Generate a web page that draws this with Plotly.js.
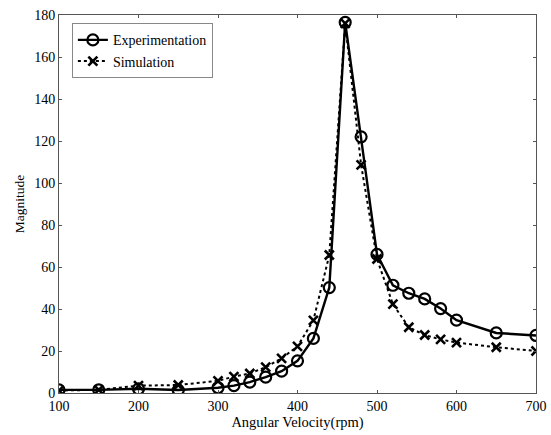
<!DOCTYPE html>
<html>
<head>
<meta charset="utf-8">
<script src="https://cdn.plot.ly/plotly-3.0.1.min.js"></script>
<style>
  html, body { margin: 0; padding: 0; background: #fff; }
  #chart { width: 551px; height: 435px; }
</style>
</head>
<body>
<div id="chart"></div>
<script>
// Angular velocity sweep (rpm)
const speedExp = [100, 150, 200, 250, 300, 320, 340, 360, 380, 400, 420, 440, 460, 480, 500, 520, 540, 560, 580, 600, 650, 700];
const magExp   = [1.5, 1.5, 2.0, 1.4, 2.5, 3.5, 5.2, 7.6, 10.4, 15.3, 26.0, 50.2, 176.5, 122.0, 66.0, 51.3, 47.5, 44.8, 40.2, 34.7, 28.6, 27.4];

const speedSim = [100, 150, 200, 250, 300, 320, 340, 360, 380, 400, 420, 440, 460, 480, 500, 520, 540, 560, 580, 600, 650, 700];
const magSim   = [1.2, 1.5, 3.5, 3.8, 5.8, 7.8, 9.3, 12.3, 16.5, 22.2, 34.6, 65.7, 176.0, 108.6, 63.8, 42.3, 31.3, 27.6, 25.5, 24.0, 21.8, 20.0];

const xTicks = [100, 200, 300, 400, 500, 600, 700];
const yTicks = [0, 20, 40, 60, 80, 100, 120, 140, 160, 180];

const serif = 'Liberation Serif, Times New Roman, serif';

const traces = [
  {
    x: speedExp, y: magExp, name: 'Experimentation',
    type: 'scatter', mode: 'lines+markers',
    line: { color: '#000', width: 2.4, dash: 'solid' },
    marker: { symbol: 'circle-open', size: 11, color: '#000', line: { color: '#000', width: 2.2 } }
  },
  {
    x: speedSim, y: magSim, name: 'Simulation',
    type: 'scatter', mode: 'lines+markers',
    line: { color: '#000', width: 2, dash: 'dot' },
    marker: { symbol: 'x-thin-open', size: 9, color: '#000', line: { color: '#000', width: 2.6 } }
  }
];

const layout = {
  width: 551, height: 435,
  margin: { l: 59, r: 15, t: 15, b: 42, pad: 0 },
  paper_bgcolor: '#fff', plot_bgcolor: '#fff',
  font: { family: serif, color: '#000', size: 14 },
  showlegend: true,
  legend: {
    x: 0.027, y: 0.978, xanchor: 'left', yanchor: 'top',
    bgcolor: '#fff', bordercolor: '#888', borderwidth: 1,
    font: { family: serif, size: 14, color: '#000' },
    tracegroupgap: 0, itemwidth: 30
  },
  xaxis: {
    range: [100, 700], tickvals: xTicks, ticktext: xTicks.map(String),
    ticks: 'inside', ticklen: 3, tickcolor: '#555', tickwidth: 1,
    showline: true, linecolor: '#555', linewidth: 1, mirror: 'ticks',
    showgrid: false, zeroline: false,
    tickfont: { family: serif, size: 14, color: '#000' },
    title: { text: 'Angular Velocity(rpm)', font: { family: serif, size: 14.5, color: '#000' }, standoff: 3 }
  },
  yaxis: {
    range: [0, 180], tickvals: yTicks, ticktext: yTicks.map(String),
    ticks: 'inside', ticklen: 3, tickcolor: '#555', tickwidth: 1,
    showline: true, linecolor: '#555', linewidth: 1, mirror: 'ticks',
    showgrid: false, zeroline: false,
    tickfont: { family: serif, size: 14, color: '#000' },
    title: { text: 'Magnitude', font: { family: serif, size: 13.5, color: '#000' }, standoff: 6 }
  }
};

Plotly.newPlot('chart', traces, layout, { displayModeBar: false, staticPlot: true });
</script>
</body>
</html>
